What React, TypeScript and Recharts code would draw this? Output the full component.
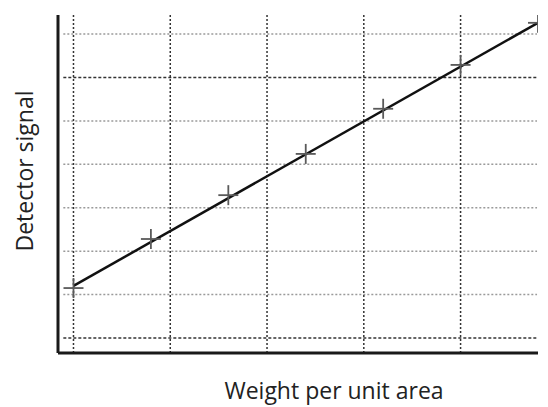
import React from "react"
import {
    ComposedChart,
    Line,
    Scatter,
    XAxis,
    YAxis,
    ReferenceLine,
} from "recharts"

// measured points (weight per unit area vs detector signal, arbitrary units)
const weights = [0, 0.8, 1.6, 2.4, 3.2, 4.0, 4.8]
const signals = [1.15, 2.28, 3.29, 4.24, 5.28, 6.29, 7.26]

// calibration fit line
const fitWeights = [0, 4.8]
const fitSignals = [1.2, 7.26]

// grid positions
const xGrid = [0, 1, 2, 3, 4]
const yGrid = [0, 1, 2, 3, 4, 5, 6, 7]
const darkRows = [0, 6]

const xTitle = "Weight per unit area"
const yTitle = "Detector signal"

const points = weights.map((x, i) => ({ x, y: signals[i] }))
const fit = fitWeights.map((x, i) => ({ x, y: fitSignals[i] }))

const FONT = "'Open Sans', 'DejaVu Sans', sans-serif"

function Cross(props: any) {
    const { cx, cy } = props
    if (cx == null || cy == null) return null
    const r = 10
    return (
        <g stroke="#5a5a5a" strokeWidth={1.8}>
            <line x1={cx - r} y1={cy} x2={cx + r} y2={cy} />
            <line x1={cx} y1={cy - r} x2={cx} y2={cy + r} />
        </g>
    )
}

export default function App() {
    return (
        <div style={{ position: "absolute", left: 0, top: 0, background: "#fff" }}>
            <ComposedChart
                width={548}
                height={407}
                margin={{ top: 15, right: 10, bottom: 14, left: 18 }}
            >
                <XAxis
                    type="number"
                    dataKey="x"
                    domain={[-0.16, 4.8]}
                    allowDataOverflow
                    ticks={xGrid}
                    tick={false}
                    tickLine={false}
                    height={40}
                    axisLine={{ stroke: "#1a1a1a", strokeWidth: 3 }}
                    label={{
                        content: ({ viewBox }: any) => (
                            <text
                                x={viewBox.x + viewBox.width / 2 + 36}
                                y={viewBox.y + 46}
                                textAnchor="middle"
                                fontFamily={FONT}
                                fontSize={23}
                                fill="#222"
                            >
                                {xTitle}
                            </text>
                        ),
                    }}
                />
                <YAxis
                    type="number"
                    dataKey="y"
                    domain={[-0.346, 7.44]}
                    allowDataOverflow
                    ticks={yGrid}
                    tick={false}
                    tickLine={false}
                    width={40}
                    axisLine={{ stroke: "#1a1a1a", strokeWidth: 3 }}
                    label={{
                        content: ({ viewBox }: any) => {
                            const lx = viewBox.x + 5.5
                            const ly = viewBox.y + viewBox.height / 2 - 13
                            return (
                                <text
                                    x={lx}
                                    y={ly}
                                    transform={`rotate(-90 ${lx} ${ly})`}
                                    textAnchor="middle"
                                    dominantBaseline="central"
                                    fontFamily={FONT}
                                    fontSize={23}
                                    fill="#222"
                                >
                                    {yTitle}
                                </text>
                            )
                        },
                    }}
                />
                {yGrid.map((v) => {
                    const dark = darkRows.includes(v)
                    return (
                        <ReferenceLine
                            key={`h-${v}`}
                            segment={[{ x: -0.105, y: v }, { x: 4.79, y: v }]}
                            stroke={dark ? "#333" : "#9a9a9a"}
                            strokeWidth={dark ? 1.6 : 1.5}
                            strokeDasharray={dark ? "3 2" : "2 2"}
                        />
                    )
                })}
                {xGrid.map((v) => (
                    <ReferenceLine
                        key={`v-${v}`}
                        x={v}
                        stroke="#333"
                        strokeWidth={1.5}
                        strokeDasharray="2 2"
                    />
                ))}
                <Line
                    data={fit}
                    dataKey="y"
                    stroke="#111"
                    strokeWidth={2.5}
                    dot={false}
                    activeDot={false}
                    isAnimationActive={false}
                />
                <Scatter
                    data={points}
                    dataKey="y"
                    shape={<Cross />}
                    isAnimationActive={false}
                />
            </ComposedChart>
        </div>
    )
}
